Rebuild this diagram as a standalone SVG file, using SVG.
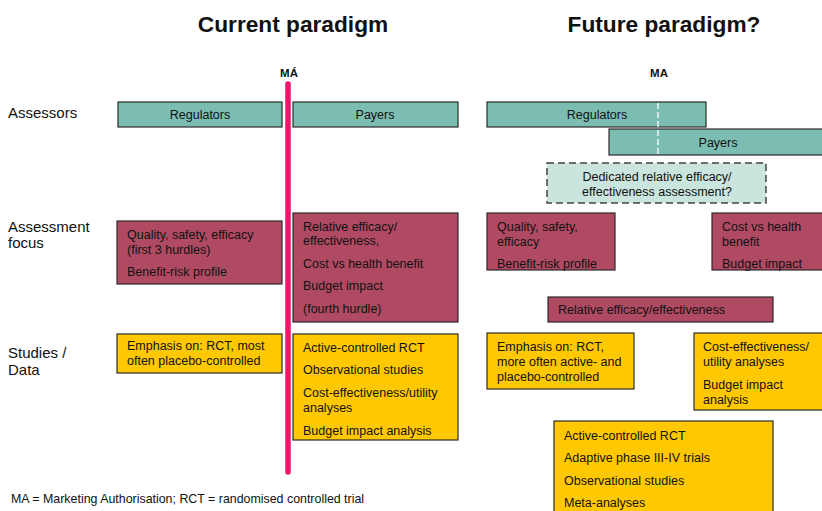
<svg xmlns="http://www.w3.org/2000/svg" width="822" height="511" viewBox="0 0 822 511">
<style>
text{font-family:"Liberation Sans",Arial,sans-serif;fill:#111}
.title{font-size:22.7px;font-weight:bold;text-anchor:middle}
.ma{font-size:11.5px;font-weight:bold;text-anchor:middle}
.lbl{font-size:15px}
.t{font-size:12.5px}
.c{text-anchor:middle}
.teal{fill:#7BBDB1;stroke:#2b2b2b;stroke-width:1.2}
.red{fill:#B04A62;stroke:#2b2b2b;stroke-width:1.2}
.yel{fill:#FFC800;stroke:#2b2b2b;stroke-width:1.2}
.dash{fill:#C9E5DE;stroke:#444;stroke-width:1.5;stroke-dasharray:7 4}
.note{font-size:12.4px}
</style>
<rect width="822" height="511" fill="#fff"/>
<text class="title" x="293" y="32">Current paradigm</text>
<text class="title" x="664" y="32">Future paradigm?</text>
<text class="ma" x="289" y="77">MÁ</text>
<text class="ma" x="659" y="77">MA</text>
<g id="labels">
<text class="lbl" x="8" y="118">Assessors</text>
<text class="lbl" x="8" y="232">Assessment</text>
<text class="lbl" x="8" y="248">focus</text>
<text class="lbl" x="8" y="358">Studies /</text>
<text class="lbl" x="8" y="375">Data</text>
</g>
<g id="cur-regulators"><rect class="teal" x="118" y="102" width="164" height="25"/><text class="t c" x="200" y="119">Regulators</text></g>
<g id="cur-payers"><rect class="teal" x="293" y="102" width="165" height="25"/><text class="t c" x="375" y="119">Payers</text></g>
<g id="cur-focus1"><rect class="red" x="117" y="221" width="165" height="63"/>
<text class="t" x="127" y="239">Quality, safety, efficacy</text>
<text class="t" x="127" y="254">(first 3 hurdles)</text>
<text class="t" x="127" y="276">Benefit-risk profile</text></g>
<g id="cur-focus2"><rect class="red" x="293" y="213" width="165" height="109"/>
<text class="t" x="303" y="231">Relative efficacy/</text>
<text class="t" x="303" y="245">effectiveness,</text>
<text class="t" x="303" y="268">Cost vs health benefit</text>
<text class="t" x="303" y="290">Budget impact</text>
<text class="t" x="303" y="313">(fourth hurdle)</text></g>
<g id="cur-data1"><rect class="yel" x="117" y="334" width="165" height="39"/>
<text class="t" x="127" y="350">Emphasis on: RCT, most</text>
<text class="t" x="127" y="365">often placebo-controlled</text></g>
<g id="cur-data2"><rect class="yel" x="293" y="334" width="165" height="106"/>
<text class="t" x="303" y="352">Active-controlled RCT</text>
<text class="t" x="303" y="374">Observational studies</text>
<text class="t" x="303" y="397">Cost-effectiveness/utility</text>
<text class="t" x="303" y="412">analyses</text>
<text class="t" x="303" y="435">Budget impact analysis</text></g>
<g id="ma-line"><line x1="288" y1="84" x2="288" y2="472" stroke="#F2136B" stroke-width="5.5" stroke-linecap="round"/></g>
<g id="fut-regulators"><rect class="teal" x="487" y="102" width="219" height="25"/><text class="t c" x="597" y="119">Regulators</text></g>
<g id="fut-payers"><rect class="teal" x="609" y="129" width="216" height="26"/><text class="t c" x="718" y="147">Payers</text></g>
<g id="ma-dash"><line x1="658" y1="103" x2="658" y2="155" stroke="#fff" stroke-width="1.3" stroke-dasharray="6 3"/></g>
<g id="fut-dedicated"><rect class="dash" x="547" y="163" width="219" height="40"/>
<text class="t c" x="657" y="181">Dedicated relative efficacy/</text>
<text class="t c" x="657" y="196">effectiveness assessment?</text></g>
<g id="fut-focus1"><rect class="red" x="487" y="213" width="128" height="57"/>
<text class="t" x="497" y="231">Quality, safety,</text>
<text class="t" x="497" y="246">efficacy</text>
<text class="t" x="497" y="268">Benefit-risk profile</text></g>
<g id="fut-focus2"><rect class="red" x="712" y="213" width="113" height="57"/>
<text class="t" x="722" y="231">Cost vs health</text>
<text class="t" x="722" y="246">benefit</text>
<text class="t" x="722" y="268">Budget impact</text></g>
<g id="fut-focus3"><rect class="red" x="548" y="297" width="225" height="25"/>
<text class="t" x="558" y="314">Relative efficacy/effectiveness</text></g>
<g id="fut-data1"><rect class="yel" x="487" y="333" width="147" height="56"/>
<text class="t" x="497" y="351">Emphasis on: RCT,</text>
<text class="t" x="497" y="366">more often active- and</text>
<text class="t" x="497" y="381">placebo-controlled</text></g>
<g id="fut-data2"><rect class="yel" x="694" y="333" width="131" height="77"/>
<text class="t" x="703" y="351">Cost-effectiveness/</text>
<text class="t" x="703" y="366">utility analyses</text>
<text class="t" x="703" y="389">Budget impact</text>
<text class="t" x="703" y="404">analysis</text></g>
<g id="fut-data3"><rect class="yel" x="554" y="421" width="219" height="95"/>
<text class="t" x="564" y="440">Active-controlled RCT</text>
<text class="t" x="564" y="462">Adaptive phase III-IV trials</text>
<text class="t" x="564" y="485">Observational studies</text>
<text class="t" x="564" y="507">Meta-analyses</text></g>
<text class="note" x="11" y="503">MA = Marketing Authorisation; RCT = randomised controlled trial</text>
</svg>
